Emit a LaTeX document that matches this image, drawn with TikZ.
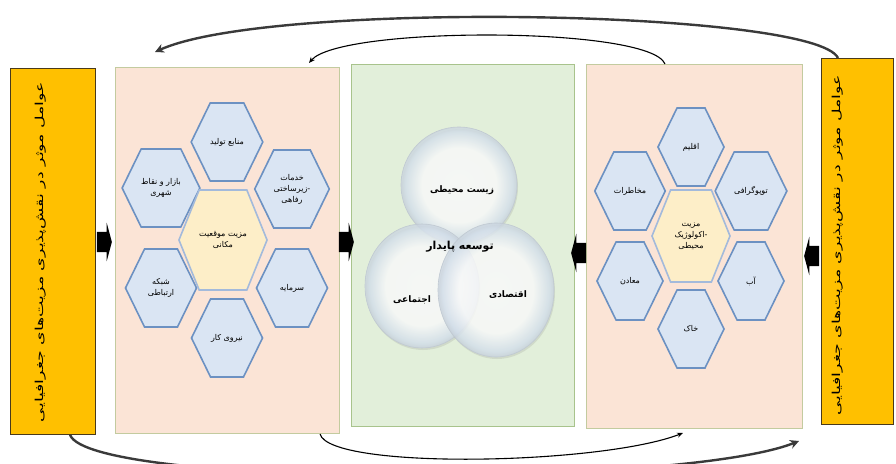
\documentclass[tikz,border=0pt]{standalone}
\usepackage{fontspec}
\usepackage{graphicx}
\newfontfamily\fafont[Script=Arabic]{DejaVu Sans}
\TeXXeTstate=1
\usetikzlibrary{shapes.geometric, shapes.symbols, shapes.arrows, arrows.meta, calc, shadows}

\definecolor{boxyellow}{HTML}{FFC000}
\definecolor{boxedge}{HTML}{4A3A1A}
\definecolor{peachfill}{HTML}{FBE4D6}
\definecolor{peachedge}{HTML}{C3CB9F}
\definecolor{greenfill}{HTML}{E2EFDA}
\definecolor{greenedge}{HTML}{A8C38C}
\definecolor{hexfill}{HTML}{DAE5F3}
\definecolor{hexedge}{HTML}{6C91C2}
\definecolor{corefill}{HTML}{FDEEC8}
\definecolor{coreedge}{HTML}{A3BADB}
\definecolor{ringfill}{HTML}{D6E2EE}
\definecolor{flowgray}{HTML}{3A3A3A}

\pgfdeclareradialshading{bubbleshade}{\pgfpoint{0bp}{0bp}}{color(0bp)=(white); color(16bp)=(white!96!ringfill); color(23bp)=(ringfill); color(25bp)=(ringfill!85!gray); color(50bp)=(ringfill!85!gray)}

\newcommand{\rl}[1]{\beginR #1\endR}

\begin{document}
\begin{tikzpicture}[x=1pt,y=-1pt,
  yellowbox/.style={draw=boxedge, line width=0.8pt, fill=boxyellow, anchor=north west, inner sep=0pt},
  peachpanel/.style={draw=peachedge, line width=1pt, fill=peachfill, anchor=north west, inner sep=0pt},
  greenpanel/.style={draw=greenedge, line width=1pt, fill=greenfill, anchor=north west, inner sep=0pt},
  hexcell/.style={signal, signal to=east and west, signal pointer angle=128, draw=hexedge, line width=1.6pt,
    fill=hexfill, minimum width=71pt, minimum height=78pt, inner sep=0pt, align=center,
    font=\fafont\fontsize{8}{11}\selectfont},
  corecell/.style={hexcell, fill=corefill, draw=coreedge, minimum width=80pt, minimum height=100pt, signal pointer angle=136},
  bubble/.style={ellipse, shading=bubbleshade, draw=ringfill!75!gray, line width=0.6pt, fill opacity=0.8,
    drop shadow={opacity=0.18, shadow xshift=1pt, shadow yshift=-2pt}},
  bubblelabel/.style={font=\fafont\bfseries\fontsize{9}{11}\selectfont},
  blockarrow/.style={single arrow, fill=black, inner xsep=0pt, inner ysep=10pt, minimum height=15pt,
    single arrow head extend=9pt, single arrow tip angle=150},
  sidetext/.style={rotate=90, inner sep=0pt, font=\fafont\fontsize{11}{13}\selectfont},
  outerflow/.style={draw=flowgray, line width=2.4pt, -{Stealth[length=9pt,width=9pt]}},
  innerflow/.style={draw=black, line width=1.1pt, -{Stealth[length=6pt,width=5pt]}}
]
\useasboundingbox (0,0) rectangle (896,463);

% side boxes
\node[yellowbox, minimum width=85pt, minimum height=366pt] (yellowL) at (10,68) {};
\node[yellowbox, minimum width=72pt, minimum height=366pt] (yellowR) at (821,58) {};
\node[sidetext] (noteL) at (41,252) {\resizebox{340pt}{\height}{\rl{عوامل موثر در نقش^^^^200cپذیری مزیت^^^^200cهای جغرافیایی}}};
\node[sidetext] (noteR) at (838,245) {\resizebox{340pt}{\height}{\rl{عوامل موثر در نقش^^^^200cپذیری مزیت^^^^200cهای جغرافیایی}}};

% panels
\node[peachpanel, minimum width=224pt, minimum height=366pt] (panelL) at (115,67) {};
\node[greenpanel, minimum width=223pt, minimum height=362pt] (panelM) at (351,64) {};
\node[peachpanel, minimum width=216pt, minimum height=364pt] (panelR) at (586,64) {};

% left cluster
\node[hexcell] (locTop) at (227,142) {\rl{منابع تولید}};
\node[hexcell] (locUL) at (161,188) {\rl{بازار و نقاط}\\\rl{شهری}};
\node[hexcell] (locUR) at (292,189) {\rl{خدمات}\\\rl{زیرساختی}-\\\rl{رفاهی}};
\node[hexcell] (locLL) at (161,288) {\rl{شبکه}\\\rl{ارتباطی}};
\node[hexcell] (locLR) at (292,288) {\rl{سرمایه}};
\node[hexcell] (locBot) at (227,338) {\rl{نیروی کار}};
\node[corecell] (locCore) at (223,240) {\rl{مزیت موقعیت}\\\rl{مکانی}};

% right cluster
\node[hexcell, minimum width=66pt] (ecoTop) at (691,147) {\rl{اقلیم}};
\node[hexcell, minimum width=66pt] (ecoUL) at (630,191) {\rl{مخاطرات}};
\node[hexcell, minimum width=66pt] (ecoUR) at (751,191) {\rl{توپوگرافی}};
\node[hexcell, minimum width=66pt] (ecoLL) at (630,281) {\rl{معادن}};
\node[hexcell, minimum width=66pt] (ecoLR) at (751,281) {\rl{آب}};
\node[hexcell, minimum width=66pt] (ecoBot) at (691,329) {\rl{خاک}};
\node[corecell, minimum width=78pt, minimum height=92pt] (ecoCore) at (691,236) {\rl{مزیت}\\\rl{اکولوژیک}-\\\rl{محیطی}};

% venn
\node[bubble, minimum width=116pt, minimum height=116pt] (envBall) at (459,185) {};
\node[bubble, minimum width=114pt, minimum height=124pt] (socBall) at (422,286) {};
\node[bubble, minimum width=116pt, minimum height=134pt] (ecoBall) at (496,290) {};
\node[bubblelabel] (envText) at (462,190) {\rl{زیست محیطی}};
\node[bubblelabel] (socText) at (412,300) {\rl{اجتماعی}};
\node[bubblelabel] (ecoText) at (508,295) {\rl{اقتصادی}};
\node[bubblelabel, font=\fafont\bfseries\fontsize{11}{13}\selectfont] (goalText) at (460,247) {\rl{توسعه پایدار}};

% block arrows
\node[blockarrow] (arrA) at (103,242) {};
\node[blockarrow] (arrB) at (345,242) {};
\node[blockarrow, shape border rotate=180] (arrC) at (580,253) {};
\node[blockarrow, shape border rotate=180] (arrD) at (813,256) {};

% feedback curves
\coordinate (topOutEnd) at (155,52);
\coordinate (topInEnd) at ($(panelL.north west)+(194,-4)$);
\coordinate (botInEnd) at ($(panelR.south west)+(97,4)$);
\coordinate (botOutEnd) at ($(panelR.south east)+(-4,12)$);
\draw[outerflow] ($(yellowR.north west)+(17,0)$) .. controls (815,10) and (270,0) .. (topOutEnd);
\draw[innerflow] ($(panelR.north west)+(79,0)$) .. controls (650,26) and (340,26) .. (topInEnd);
\draw[innerflow] ($(panelL.south west)+(205,0)$) .. controls (330,470) and (600,465) .. (botInEnd);
\draw[outerflow] ($(yellowL.south west)+(60,0)$) .. controls (90,488) and (680,488) .. (botOutEnd);

\end{tikzpicture}
\end{document}
